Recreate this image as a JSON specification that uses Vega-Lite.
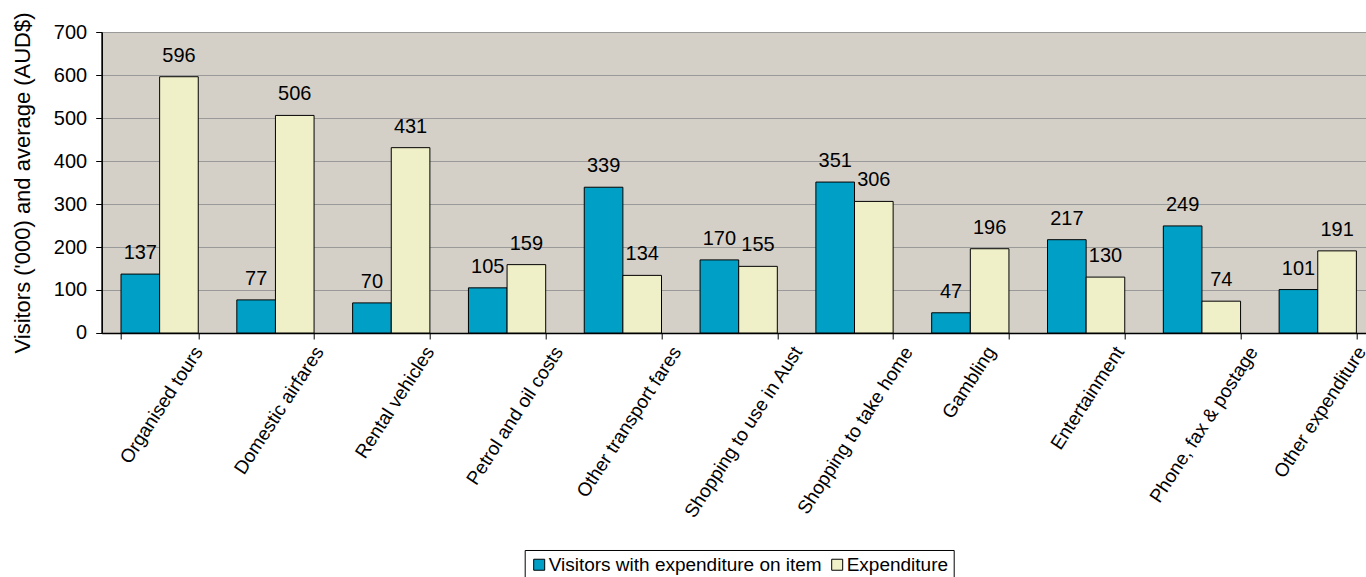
{
  "$schema": "https://vega.github.io/schema/vega-lite/v6.json",
  "width": 1274,
  "height": 301,
  "autosize": "none",
  "padding": {"left": 101.7, "top": 32, "right": 0, "bottom": 244},
  "background": "white",
  "config": {
    "font": "Liberation Sans",
    "view": {"fill": "#D4D0C8", "stroke": "#000000", "strokeWidth": 1}
  },
  "data": {
    "values": [
      {"category": "Organised tours", "series": "Visitors with expenditure on item", "value": 137},
      {"category": "Organised tours", "series": "Expenditure", "value": 596},
      {"category": "Domestic airfares", "series": "Visitors with expenditure on item", "value": 77},
      {"category": "Domestic airfares", "series": "Expenditure", "value": 506},
      {"category": "Rental vehicles", "series": "Visitors with expenditure on item", "value": 70},
      {"category": "Rental vehicles", "series": "Expenditure", "value": 431},
      {"category": "Petrol and oil costs", "series": "Visitors with expenditure on item", "value": 105},
      {"category": "Petrol and oil costs", "series": "Expenditure", "value": 159},
      {"category": "Other transport fares", "series": "Visitors with expenditure on item", "value": 339},
      {"category": "Other transport fares", "series": "Expenditure", "value": 134},
      {"category": "Shopping to use in Aust", "series": "Visitors with expenditure on item", "value": 170},
      {"category": "Shopping to use in Aust", "series": "Expenditure", "value": 155},
      {"category": "Shopping to take home", "series": "Visitors with expenditure on item", "value": 351},
      {"category": "Shopping to take home", "series": "Expenditure", "value": 306},
      {"category": "Gambling", "series": "Visitors with expenditure on item", "value": 47},
      {"category": "Gambling", "series": "Expenditure", "value": 196},
      {"category": "Entertainment", "series": "Visitors with expenditure on item", "value": 217},
      {"category": "Entertainment", "series": "Expenditure", "value": 130},
      {"category": "Phone, fax & postage", "series": "Visitors with expenditure on item", "value": 249},
      {"category": "Phone, fax & postage", "series": "Expenditure", "value": 74},
      {"category": "Other expenditure", "series": "Visitors with expenditure on item", "value": 101},
      {"category": "Other expenditure", "series": "Expenditure", "value": 191}
    ]
  },
  "encoding": {
    "x": {
      "field": "category",
      "type": "nominal",
      "sort": null,
      "scale": {"paddingInner": 0.333, "paddingOuter": 0.1667},
      "axis": {
        "title": null,
        "labelAngle": -57,
        "labelAlign": "right",
        "labelBaseline": "middle",
        "labelFontSize": 19,
        "labelColor": "#000000",
        "labelPadding": 9,
        "labelOffset": {"expr": "length(datum.label) * 2.55"},
        "labelLimit": 400,
        "tickBand": "extent",
        "tickSize": 6,
        "tickColor": "#000000",
        "domainColor": "#000000",
        "domainWidth": 1.5,
        "grid": false
      }
    },
    "xOffset": {
      "field": "series",
      "type": "nominal",
      "sort": ["Visitors with expenditure on item", "Expenditure"],
      "scale": {"paddingInner": 0, "paddingOuter": 0}
    },
    "y": {
      "field": "value",
      "type": "quantitative",
      "scale": {"domain": [0, 700], "nice": false},
      "axis": {
        "title": "Visitors ('000) and average (AUD$)",
        "titleFontSize": 22,
        "titleFontWeight": "normal",
        "titleColor": "#000000",
        "titlePadding": 19,
        "values": [0, 100, 200, 300, 400, 500, 600, 700],
        "labelFontSize": 20,
        "labelColor": "#000000",
        "labelPadding": 9,
        "tickSize": 6,
        "tickColor": "#000000",
        "domainColor": "#000000",
        "domainWidth": 1.5,
        "grid": true,
        "gridColor": "#9A9A9A",
        "gridWidth": 1.2
      }
    }
  },
  "layer": [
    {
      "mark": {"type": "bar", "stroke": "#000000", "strokeWidth": 1},
      "encoding": {
        "color": {
          "field": "series",
          "type": "nominal",
          "scale": {
            "domain": ["Visitors with expenditure on item", "Expenditure"],
            "range": ["#00A0C6", "#F0F0C8"]
          },
          "legend": {
            "title": null,
            "orient": "none",
            "direction": "horizontal",
            "legendX": 423,
            "legendY": 518,
            "symbolType": "square",
            "symbolSize": 121,
            "symbolStrokeColor": "#000000",
            "symbolStrokeWidth": 1,
            "labelFontSize": 19,
            "labelColor": "#000000",
            "labelLimit": 400,
            "columnPadding": 5,
            "labelOffset": 0,
            "padding": 5,
            "strokeColor": "#000000",
            "fillColor": "#FFFFFF"
          }
        }
      }
    },
    {
      "mark": {"type": "text", "fontSize": 20, "color": "#000000", "baseline": "alphabetic", "dy": -15},
      "encoding": {
        "text": {"field": "value", "type": "quantitative"}
      }
    }
  ]
}
